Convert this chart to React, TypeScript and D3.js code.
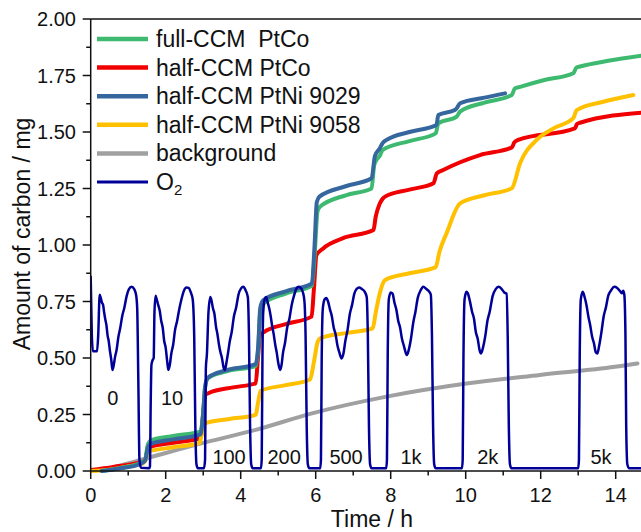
import React from "react";
import * as d3 from "d3";

type P = [number, number];

// ---- data (time in h, amount in mg) ----
const fullCcmPtCo: P[] = [
  [0.3, 0], [0.8, 0.014], [1.3, 0.034], [1.45, 0.05], [1.52, 0.115], [1.6, 0.135], [2.2, 0.155], [2.93, 0.175],
  [3.0, 0.26], [3.05, 0.37], [3.12, 0.41], [3.6, 0.44], [4.4, 0.465], [4.47, 0.55], [4.52, 0.7], [4.6, 0.74],
  [5.2, 0.785], [5.9, 0.82], [5.97, 0.95], [6.05, 1.15], [6.12, 1.17], [6.8, 1.22], [7.49, 1.25], [7.56, 1.354],
  [7.62, 1.376], [7.72, 1.398], [7.78, 1.42], [8.5, 1.46], [9.2, 1.494], [9.27, 1.538], [9.76, 1.568],
  [9.85, 1.59], [10.5, 1.63], [11.23, 1.664], [11.31, 1.693], [11.45, 1.70], [12.1, 1.73], [12.87, 1.76],
  [12.95, 1.785], [13.05, 1.79], [13.8, 1.815], [14.8, 1.84],
];
const halfCcmPtCo: P[] = [
  [0, 0.004], [0.6, 0.018], [1.36, 0.04], [1.45, 0.05], [1.52, 0.095], [1.6, 0.107], [2.2, 0.125], [2.93, 0.146],
  [3.0, 0.25], [3.05, 0.335], [3.15, 0.345], [3.8, 0.37], [4.4, 0.388], [4.46, 0.5], [4.52, 0.6], [4.62, 0.615],
  [5.2, 0.65], [5.89, 0.683], [5.95, 0.8], [6.02, 0.955], [6.2, 0.985], [6.73, 1.03], [7.54, 1.066],
  [7.6, 1.125], [7.71, 1.184], [7.85, 1.214], [8.5, 1.245], [9.14, 1.273], [9.23, 1.317], [9.4, 1.332],
  [10.38, 1.398], [11.23, 1.432], [11.3, 1.455], [11.4, 1.465], [12.91, 1.516], [12.97, 1.535],
  [13.05, 1.541], [14.8, 1.587],
];
const halfCcmPtNi9029: P[] = [
  [0.3, 0], [0.8, 0.012], [1.3, 0.03], [1.45, 0.045], [1.52, 0.1], [1.6, 0.12], [2.2, 0.14], [2.93, 0.162],
  [3.0, 0.26], [3.05, 0.37], [3.12, 0.412], [3.6, 0.445], [4.4, 0.473], [4.47, 0.56], [4.52, 0.72], [4.6, 0.755],
  [5.2, 0.795], [5.9, 0.83], [5.97, 1.0], [6.03, 1.19], [6.1, 1.214], [6.8, 1.26], [7.49, 1.295], [7.58, 1.394],
  [7.71, 1.428], [7.78, 1.45], [7.89, 1.465], [8.5, 1.5], [9.22, 1.531], [9.27, 1.575], [9.71, 1.597],
  [9.76, 1.605], [9.85, 1.627], [10.5, 1.652], [11.05, 1.671],
];
const halfCcmPtNi9058: P[] = [
  [0, 0], [0.5, 0.006], [1.0, 0.02], [1.4, 0.035], [1.47, 0.05], [1.53, 0.085], [2.2, 0.105], [2.9, 0.124],
  [2.97, 0.17], [3.03, 0.21], [3.7, 0.23], [4.4, 0.248], [4.46, 0.3], [4.53, 0.355], [5.2, 0.38], [5.85, 0.405],
  [5.95, 0.48], [6.05, 0.57], [6.12, 0.587], [6.8, 0.61], [7.52, 0.631], [7.6, 0.7], [7.7, 0.78], [7.85, 0.845],
  [8.5, 0.875], [9.2, 0.902], [9.3, 0.97], [9.49, 1.052], [9.85, 1.184], [10.5, 1.22], [11.23, 1.251],
  [11.45, 1.362], [11.89, 1.465], [12.34, 1.516], [12.87, 1.561], [12.96, 1.597], [13.67, 1.634], [14.47, 1.664],
];
const background: P[] = [
  [0.3, 0], [0.8, 0.025], [1.4, 0.052], [2.9, 0.12], [4.4, 0.182], [5.9, 0.255], [7.89, 0.329], [10.07, 0.388],
  [11.98, 0.425], [13.98, 0.461], [14.58, 0.476],
];
const oxygen: P[] = [
  [0.0, 0.86], [0.03, 0.6], [0.06, 0.53], [0.17, 0.53], [0.2, 0.6], [0.24, 0.78], [0.27, 0.765], [0.3, 0.745],
  [0.33, 0.735], [0.36, 0.7], [0.39, 0.67], [0.42, 0.645], [0.45, 0.6], [0.48, 0.575], [0.51, 0.535],
  [0.55, 0.49], [0.58, 0.447], [0.61, 0.465], [0.65, 0.505], [0.69, 0.535], [0.74, 0.595], [0.79, 0.635],
  [0.84, 0.685], [0.9, 0.725], [0.96, 0.775], [1.02, 0.805], [1.09, 0.815], [1.16, 0.805], [1.21, 0.78],
  [1.24, 0.72], [1.27, 0.4], [1.3, 0.05], [1.34, 0.014], [1.56, 0.012],
  [1.58, 0.02], [1.6, 0.3], [1.62, 0.47], [1.65, 0.49], [1.68, 0.5], [1.7, 0.7], [1.73, 0.775], [1.76, 0.76],
  [1.8, 0.735], [1.84, 0.71], [1.88, 0.665], [1.92, 0.635], [1.96, 0.575], [2.0, 0.545], [2.04, 0.485],
  [2.07, 0.447], [2.11, 0.47], [2.15, 0.52], [2.2, 0.56], [2.25, 0.625], [2.3, 0.66], [2.36, 0.715],
  [2.42, 0.76], [2.48, 0.795], [2.55, 0.812], [2.61, 0.81], [2.67, 0.79], [2.72, 0.76], [2.76, 0.6],
  [2.79, 0.2], [2.82, 0.03], [2.86, 0.012], [3.02, 0.012],
  [3.05, 0.05], [3.07, 0.45], [3.1, 0.52], [3.14, 0.7], [3.19, 0.77], [3.22, 0.755], [3.26, 0.72],
  [3.3, 0.695], [3.34, 0.64], [3.38, 0.605], [3.42, 0.56], [3.46, 0.525], [3.5, 0.5], [3.54, 0.46],
  [3.58, 0.447], [3.62, 0.48], [3.66, 0.52], [3.71, 0.575], [3.76, 0.615], [3.82, 0.685], [3.88, 0.725],
  [3.94, 0.78], [4.01, 0.808], [4.07, 0.815], [4.13, 0.8], [4.19, 0.77], [4.22, 0.6], [4.25, 0.2],
  [4.28, 0.03], [4.32, 0.012], [4.54, 0.012],
  [4.56, 0.05], [4.58, 0.5], [4.6, 0.7], [4.64, 0.76], [4.68, 0.77], [4.72, 0.745], [4.76, 0.72], [4.8, 0.685],
  [4.84, 0.64], [4.88, 0.605], [4.92, 0.56], [4.96, 0.525], [5.0, 0.48], [5.05, 0.447], [5.09, 0.47],
  [5.13, 0.525], [5.18, 0.565], [5.24, 0.635], [5.3, 0.675], [5.36, 0.735], [5.42, 0.775], [5.48, 0.805],
  [5.54, 0.815], [5.6, 0.81], [5.66, 0.79], [5.7, 0.75], [5.73, 0.6], [5.76, 0.2], [5.79, 0.03], [5.83, 0.012],
  [6.12, 0.012],
  [6.14, 0.05], [6.16, 0.5], [6.19, 0.72], [6.24, 0.76], [6.28, 0.765], [6.33, 0.75], [6.38, 0.715],
  [6.43, 0.685], [6.48, 0.635], [6.53, 0.605], [6.58, 0.555], [6.63, 0.525], [6.69, 0.498], [6.74, 0.52],
  [6.79, 0.575], [6.85, 0.625], [6.91, 0.695], [6.97, 0.735], [7.03, 0.785], [7.09, 0.805], [7.16, 0.812],
  [7.23, 0.805], [7.3, 0.795], [7.36, 0.77], [7.39, 0.6], [7.42, 0.2], [7.45, 0.03], [7.49, 0.012],
  [7.88, 0.012],
  [7.9, 0.05], [7.92, 0.5], [7.95, 0.76], [8.0, 0.79], [8.05, 0.785], [8.1, 0.745], [8.15, 0.715],
  [8.2, 0.665], [8.25, 0.635], [8.3, 0.585], [8.35, 0.555], [8.43, 0.513], [8.48, 0.535], [8.54, 0.585],
  [8.6, 0.655], [8.66, 0.705], [8.72, 0.765], [8.8, 0.8], [8.87, 0.815], [8.95, 0.805], [9.02, 0.795],
  [9.07, 0.78], [9.1, 0.6], [9.13, 0.2], [9.16, 0.03], [9.2, 0.012], [9.9, 0.012],
  [9.92, 0.05], [9.94, 0.5], [9.97, 0.76], [10.02, 0.793], [10.07, 0.78], [10.12, 0.745], [10.17, 0.705],
  [10.22, 0.675], [10.27, 0.615], [10.32, 0.585], [10.37, 0.535], [10.41, 0.52], [10.46, 0.545],
  [10.52, 0.595], [10.58, 0.665], [10.64, 0.705], [10.72, 0.775], [10.8, 0.805], [10.88, 0.815],
  [10.96, 0.805], [11.03, 0.79], [11.09, 0.785], [11.12, 0.6], [11.15, 0.2], [11.18, 0.03], [11.22, 0.012],
  [13.0, 0.012],
  [13.02, 0.05], [13.04, 0.5], [13.07, 0.76], [13.12, 0.793], [13.17, 0.77], [13.22, 0.735], [13.27, 0.685],
  [13.32, 0.645], [13.37, 0.595], [13.42, 0.565], [13.47, 0.525], [13.51, 0.52], [13.56, 0.555],
  [13.62, 0.615], [13.68, 0.685], [13.74, 0.725], [13.8, 0.775], [13.88, 0.8], [13.96, 0.815], [14.04, 0.81],
  [14.12, 0.795], [14.16, 0.786], [14.2, 0.798], [14.23, 0.78], [14.26, 0.6], [14.28, 0.2], [14.31, 0.03],
  [14.36, 0.012], [14.8, 0.012],
];

const legendLabels = ["full-CCM\u00a0\u00a0PtCo", "half-CCM PtCo", "half-CCM PtNi 9029", "half-CCM PtNi 9058", "background", "O"];
const colors = ["#3dba6f", "#f00000", "#35679e", "#ffc000", "#a0a0a0", "#000099"];

const cycleLabels = ["0", "10", "100", "200", "500", "1k", "2k", "5k"];
const cycleLabelT = [0.59, 2.17, 3.69, 5.16, 6.81, 8.54, 10.59, 13.61];
const cycleLabelV = [0.323, 0.323, 0.062, 0.062, 0.062, 0.062, 0.062, 0.062];

const xMajor = [0, 2, 4, 6, 8, 10, 12, 14];
const xMinor = [1, 3, 5, 7, 9, 11, 13, 15];
const yMajor = [0, 0.25, 0.5, 0.75, 1.0, 1.25, 1.5, 1.75, 2.0];
const yMinor = [0.125, 0.375, 0.625, 0.875, 1.125, 1.375, 1.625, 1.875];

const W = 641;
const H = 532;
const FONT = "'Liberation Sans', Arial, Helvetica, sans-serif";

export default function App() {
  const x = d3.scaleLinear().domain([0, 15]).range([90.7, 653.2]);
  const y = d3.scaleLinear().domain([0, 2]).range([471, 19]);
  const line = d3
    .line<P>()
    .x((d) => x(d[0]))
    .y((d) => y(d[1]))
    .curve(d3.curveMonotoneX);

  const x0 = x(0);
  const y0 = y(0);
  const yTop = y(2);

  const carbon: { data: P[]; color: string }[] = [
    { data: background, color: colors[4] },
    { data: halfCcmPtCo, color: colors[1] },
    { data: halfCcmPtNi9058, color: colors[3] },
    { data: fullCcmPtCo, color: colors[0] },
    { data: halfCcmPtNi9029, color: colors[2] },
  ];

  return (
    <svg
      width={W}
      height={H}
      style={{ position: "absolute", left: 0, top: 0, background: "#fff" }}
      fontFamily={FONT}
    >
      <defs>
        <clipPath id="plot">
          <rect x={x0} y={yTop} width={x(15) - x0} height={y0 - yTop + 2} />
        </clipPath>
      </defs>
      <rect x={0} y={0} width={W} height={H} fill="#fff" />

      <g clipPath="url(#plot)" fill="none" strokeLinejoin="round" strokeLinecap="round">
        {carbon.map((s, i) => (
          <path key={i} d={line(s.data) || ""} stroke={s.color} strokeWidth={4} />
        ))}
        <path d={line(oxygen) || ""} stroke={colors[5]} strokeWidth={2.5} />
      </g>

      {/* cycle labels */}
      {cycleLabels.map((l, i) => (
        <text
          key={l}
          x={x(cycleLabelT[i])}
          y={y(cycleLabelV[i])}
          fontSize={20}
          textAnchor="middle"
          dominantBaseline="central"
          fill="#111"
        >
          {l}
        </text>
      ))}

      {/* axes */}
      <g stroke="#111" strokeWidth={1.5}>
        <line x1={x0} x2={x0} y1={yTop} y2={y0} />
        <line x1={x0} x2={W} y1={y0} y2={y0} />
        <line x1={x0} x2={W} y1={yTop} y2={yTop} />
        {yMajor.map((v) => (
          <line key={"ym" + v} x1={x0 - 8} x2={x0} y1={y(v)} y2={y(v)} />
        ))}
        {yMinor.map((v) => (
          <line key={"yn" + v} x1={x0 - 4.5} x2={x0} y1={y(v)} y2={y(v)} />
        ))}
        {xMajor.map((v) => (
          <line key={"xm" + v} x1={x(v)} x2={x(v)} y1={y0} y2={y0 + 8} />
        ))}
        {xMinor.map((v) => (
          <line key={"xn" + v} x1={x(v)} x2={x(v)} y1={y0} y2={y0 + 4.5} />
        ))}
      </g>
      {yMajor.map((v) => (
        <text key={"yl" + v} x={76} y={y(v)} fontSize={20} textAnchor="end" dominantBaseline="central" fill="#111">
          {d3.format(".2f")(v)}
        </text>
      ))}
      {xMajor.map((v) => (
        <text key={"xl" + v} x={x(v)} y={502} fontSize={20} textAnchor="middle" fill="#111">
          {v}
        </text>
      ))}
      <text x={(x0 + x(15)) / 2} y={527} fontSize={23} textAnchor="middle" fill="#111">
        Time / h
      </text>
      <text
        transform={`translate(30, 234) rotate(-90)`}
        fontSize={23}
        textAnchor="middle"
        fill="#111"
      >
        Amount of carbon / mg
      </text>

      {/* legend */}
      {legendLabels.map((l, i) => {
        const yy = 39 + i * 28.6;
        return (
          <g key={l}>
            <line
              x1={97}
              x2={148}
              y1={yy}
              y2={yy}
              stroke={colors[i]}
              strokeWidth={i === 5 ? 3 : 4.5}
            />
            <text x={156} y={yy} fontSize={23} dominantBaseline="central" fill="#111">
              {l}
              {i === 5 ? (
                <tspan fontSize={15} dy={7}>
                  2
                </tspan>
              ) : null}
            </text>
          </g>
        );
      })}
    </svg>
  );
}
